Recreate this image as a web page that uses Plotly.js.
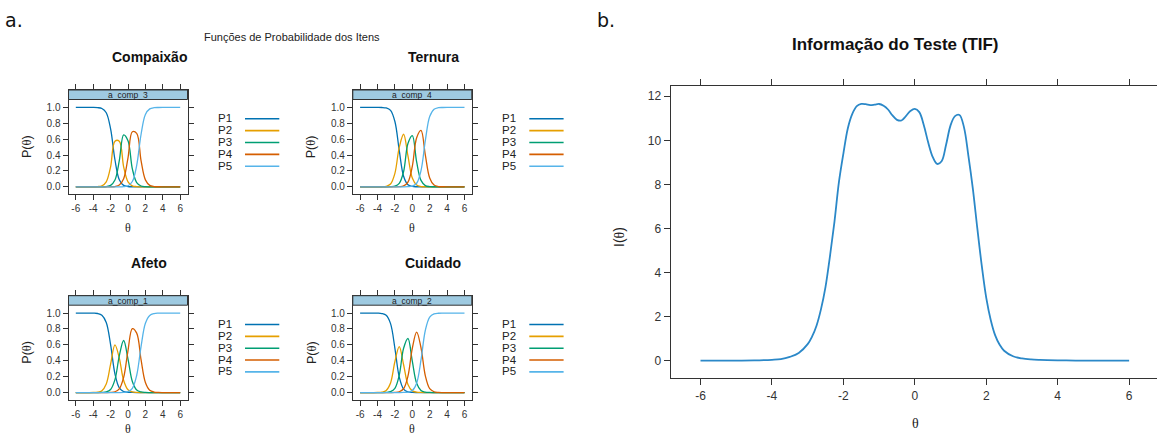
<!DOCTYPE html>
<html>
<head>
<meta charset="utf-8">
<script src="https://cdn.plot.ly/plotly-3.0.1.min.js"></script>
<style>html,body{margin:0;padding:0;background:#fff;}#chart{width:1157px;height:438px;}</style>
</head>
<body>
<div id="chart"></div>
<script>
// ---------- DATA ----------
const theta = [-6,-5.5,-5,-4.5,-4,-3.5,-3,-2.5,-2,-1.5,-1,-0.5,0,0.5,1,1.5,2,2.5,3,3.5,4,4.5,5,5.5,6];
const categoryNames = ['P1','P2','P3','P4','P5'];
const thetaTicks = [-6,-4,-2,0,2,4,6];
const thetaTickText = ['-6','-4','-2','0','2','4','6'];
const probTicks = [0,0.2,0.4,0.6,0.8,1.0];
const probTickText = ['0.0','0.2','0.4','0.6','0.8','1.0'];
const infoTicks = [0,2,4,6,8,10,12];

// Compaixão (a_comp_3)
const comp3_P1 = [1,1,1,1,1,0.997,0.986,0.933,0.729,0.341,0.090,0.019,0.004,0.001,0,0,0,0,0,0,0,0,0,0,0];
const comp3_P2 = [0,0,0,0,0,0.003,0.013,0.063,0.252,0.575,0.575,0.252,0.063,0.013,0.003,0,0,0,0,0,0,0,0,0,0];
const comp3_P3 = [0,0,0,0,0,0,0.001,0.004,0.018,0.086,0.330,0.655,0.580,0.226,0.054,0.011,0.002,0,0,0,0,0,0,0,0];
const comp3_P4 = [0,0,0,0,0,0,0,0,0.001,0.004,0.022,0.102,0.365,0.693,0.672,0.330,0.088,0.019,0.004,0.001,0,0,0,0,0];
const comp3_P5 = [0,0,0,0,0,0,0,0,0,0,0,0.003,0.014,0.067,0.271,0.659,0.910,0.981,0.996,0.999,1,1,1,1,1];

// Ternura (a_comp_4)
const comp4_P1 = [1,1,1,1,1,0.999,0.993,0.962,0.822,0.458,0.134,0.027,0.005,0.001,0,0,0,0,0,0,0,0,0,0,0];
const comp4_P2 = [0,0,0,0,0,0.001,0.007,0.036,0.170,0.497,0.662,0.389,0.110,0.022,0.004,0.001,0,0,0,0,0,0,0,0,0];
const comp4_P3 = [0,0,0,0,0,0,0,0.002,0.008,0.043,0.192,0.545,0.645,0.313,0.081,0.016,0.003,0.001,0,0,0,0,0,0,0];
const comp4_P4 = [0,0,0,0,0,0,0,0,0,0.002,0.012,0.060,0.257,0.619,0.711,0.399,0.112,0.022,0.004,0.001,0,0,0,0,0];
const comp4_P5 = [0,0,0,0,0,0,0,0,0,0,0,0.002,0.009,0.045,0.204,0.584,0.885,0.977,0.996,0.999,1,1,1,1,1];

// Afeto (a_comp_1)
const comp1_P1 = [1,1,1,1,0.999,0.995,0.974,0.883,0.603,0.235,0.058,0.012,0.003,0.001,0,0,0,0,0,0,0,0,0,0,0];
const comp1_P2 = [0,0,0,0,0.001,0.005,0.024,0.109,0.357,0.600,0.434,0.152,0.035,0.008,0.002,0,0,0,0,0,0,0,0,0,0];
const comp1_P3 = [0,0,0,0,0,0,0.002,0.008,0.038,0.162,0.462,0.655,0.422,0.139,0.032,0.007,0.001,0,0,0,0,0,0,0,0];
const comp1_P4 = [0,0,0,0,0,0,0,0,0.002,0.010,0.046,0.190,0.529,0.805,0.748,0.414,0.127,0.029,0.006,0.001,0,0,0,0,0];
const comp1_P5 = [0,0,0,0,0,0,0,0,0,0,0,0.002,0.011,0.053,0.218,0.579,0.872,0.971,0.994,0.999,1,1,1,1,1];

// Cuidado (a_comp_2)
const comp2_P1 = [1,1,1,1,0.999,0.994,0.972,0.868,0.557,0.195,0.044,0.009,0.002,0,0,0,0,0,0,0,0,0,0,0,0];
const comp2_P2 = [0,0,0,0,0.001,0.005,0.026,0.121,0.389,0.577,0.350,0.102,0.021,0.005,0.001,0,0,0,0,0,0,0,0,0,0];
const comp2_P3 = [0,0,0,0,0,0,0.002,0.011,0.052,0.218,0.557,0.680,0.395,0.116,0.025,0.005,0.001,0,0,0,0,0,0,0,0];
const comp2_P4 = [0,0,0,0,0,0,0,0,0.002,0.010,0.048,0.206,0.557,0.761,0.564,0.211,0.049,0.010,0.002,0,0,0,0,0,0];
const comp2_P5 = [0,0,0,0,0,0,0,0,0,0,0.001,0.005,0.025,0.118,0.410,0.784,0.950,0.990,0.998,1,1,1,1,1,1];

// Test information function
const tifTheta = [-6,-5,-4.5,-4,-3.75,-3.5,-3.25,-3,-2.875,-2.75,-2.625,-2.5,-2.375,-2.25,-2.125,-2,-1.875,-1.75,-1.625,-1.5,-1.375,-1.25,-1.125,-1,-0.875,-0.75,-0.625,-0.5,-0.375,-0.25,-0.125,0,0.125,0.25,0.375,0.5,0.625,0.75,0.875,1,1.125,1.25,1.375,1.5,1.625,1.75,1.875,2,2.125,2.25,2.375,2.5,2.75,3,3.25,3.5,4,4.5,5,6];
const tifInfo  = [0,0.005,0.015,0.04,0.07,0.17,0.35,0.75,1.1,1.6,2.35,3.35,4.75,6.3,8.1,9.4,10.55,11.2,11.55,11.65,11.64,11.6,11.62,11.65,11.57,11.4,11.13,10.93,10.9,11.1,11.33,11.43,11.28,10.7,9.9,9.25,8.93,9.05,9.8,10.68,11.1,11.15,10.6,9.3,7.8,6.0,4.3,2.85,1.85,1.15,0.72,0.45,0.2,0.1,0.055,0.035,0.015,0.005,0.002,0];

// ---------- LAYOUT HELPERS ----------
const W = 1157, H = 438;
const fx = x => x / W;
const fy = y => 1 - y / H;
const palette = ['#0072B2','#E69F00','#009E73','#D55E00','#56B4E9'];
const axisCol = '#333333';
const sans = 'Liberation Sans, Arial, Helvetica, sans-serif';
const serif = 'Liberation Serif, DejaVu Serif, serif';

const panels = [
  {title:'Compaixão', strip:'a_comp_3', dx:0,     dy:0,     series:[comp3_P1,comp3_P2,comp3_P3,comp3_P4,comp3_P5]},
  {title:'Ternura',   strip:'a_comp_4', dx:284.3, dy:0,     series:[comp4_P1,comp4_P2,comp4_P3,comp4_P4,comp4_P5]},
  {title:'Afeto',     strip:'a_comp_1', dx:0,     dy:205.7, series:[comp1_P1,comp1_P2,comp1_P3,comp1_P4,comp1_P5]},
  {title:'Cuidado',   strip:'a_comp_2', dx:284.3, dy:205.7, series:[comp2_P1,comp2_P2,comp2_P3,comp2_P4,comp2_P5]}
];

const traces = [];
const layout = {
  width: W, height: H,
  margin: {l:0, r:0, t:0, b:0},
  paper_bgcolor: '#ffffff', plot_bgcolor: '#ffffff',
  showlegend: false,
  font: {family: sans, color: '#222'},
  annotations: [], shapes: []
};

function ann(text, x, y, opts) {
  layout.annotations.push(Object.assign({
    text: text, x: fx(x), y: fy(y), xref: 'paper', yref: 'paper',
    xanchor: 'center', yanchor: 'middle', showarrow: false,
    font: {family: sans, size: 12, color: '#222'}
  }, opts || {}));
}

const baseAxis = {
  showgrid: false, zeroline: false, showline: true, linecolor: axisCol, linewidth: 1,
  mirror: 'ticks', ticks: 'outside', ticklen: 5, tickwidth: 1, tickcolor: axisCol,
  fixedrange: true
};

panels.forEach((p, i) => {
  const k = i + 1;
  const xa = 'xaxis' + (k === 1 ? '' : k), ya = 'yaxis' + (k === 1 ? '' : k);
  const left = 68.5 + p.dx, right = 187.5 + p.dx;
  const top = 90 + p.dy, bottom = 194 + p.dy, stripBottom = 99.5 + p.dy;
  layout[xa] = Object.assign({}, baseAxis, {
    domain: [fx(left), fx(right)], range: [-6.84, 6.84], anchor: 'y' + (k === 1 ? '' : k),
    tickvals: thetaTicks, ticktext: thetaTickText,
    tickfont: {family: sans, size: 10, color: '#333'}
  });
  layout[ya] = Object.assign({}, baseAxis, {
    domain: [fy(bottom), fy(top)], range: [-0.09, 1.219], anchor: 'x' + (k === 1 ? '' : k),
    tickvals: probTicks, ticktext: probTickText,
    tickfont: {family: sans, size: 10, color: '#333'}
  });
  p.series.forEach((vals, j) => {
    traces.push({
      type: 'scatter', mode: 'lines', x: theta, y: vals, name: categoryNames[j],
      xaxis: 'x' + (k === 1 ? '' : k), yaxis: 'y' + (k === 1 ? '' : k),
      line: {color: palette[j], width: 1.3, shape: 'spline', smoothing: 1},
      hoverinfo: 'skip'
    });
  });
  // strip
  layout.shapes.push({type:'rect', xref:'paper', yref:'paper',
    x0: fx(left), x1: fx(right), y0: fy(stripBottom), y1: fy(top),
    fillcolor: '#9ECAE1', line: {color: axisCol, width: 1}, layer: 'above'});
  ann(p.strip, (left + right) / 2, (top + stripBottom) / 2 + 0.3, {font: {family: sans, size: 8.5, color: '#222'}});
  // titles
  ann('<b>' + p.title + '</b>', 149 + p.dx, 57 + p.dy, {font: {family: sans, size: 14, color: '#111'}});
  ann('P(<span style="font-family:Liberation Serif">θ</span>)', 27 + p.dx, 147 + p.dy,
      {textangle: -90, font: {family: sans, size: 12.5, color: '#222'}});
  ann('θ', 128 + p.dx, Math.min(228 + p.dy, 429), {font: {family: serif, size: 12, color: '#222'}});
  // legend (key)
  categoryNames.forEach((nm, j) => {
    const yy = 118.3 + p.dy + j * 11.85;
    ann(nm, 216.5 + p.dx, yy, {xanchor: 'left', borderpad: 0, font: {family: sans, size: 11.5, color: '#222'}});
    layout.shapes.push({type:'line', xref:'paper', yref:'paper',
      x0: fx(245 + p.dx), x1: fx(279.3 + p.dx), y0: fy(yy + 0.5), y1: fy(yy + 0.5),
      line: {color: palette[j], width: 1.6}});
  });
});

// Right panel (TIF)
layout.xaxis5 = Object.assign({}, baseAxis, {
  domain: [fx(670.5), 1], range: [-6.84, 6.78], anchor: 'y5',
  tickvals: thetaTicks, ticktext: thetaTickText, ticklen: 6,
  tickfont: {family: sans, size: 12, color: '#333'}
});
layout.yaxis5 = Object.assign({}, baseAxis, {
  domain: [fy(378.3), fy(85.7)], range: [-0.8, 12.48], anchor: 'x5',
  tickvals: infoTicks, ticklen: 6,
  tickfont: {family: sans, size: 12, color: '#333'}
});
traces.push({
  type: 'scatter', mode: 'lines', x: tifTheta, y: tifInfo, name: 'TIF',
  xaxis: 'x5', yaxis: 'y5',
  line: {color: '#2B88C8', width: 1.8, shape: 'spline', smoothing: 1},
  hoverinfo: 'skip'
});

ann('<b>Informação do Teste (TIF)</b>', 895, 45, {font: {family: sans, size: 17, color: '#111'}});
ann('I(<span style="font-family:Liberation Serif">θ</span>)', 619, 237,
    {textangle: -90, font: {family: sans, size: 14, color: '#222'}});
ann('θ', 915, 423, {font: {family: serif, size: 14, color: '#222'}});

// Global labels
ann('Funções de Probabilidade dos Itens', 292, 37, {font: {family: sans, size: 11, color: '#222'}});
ann('a.', 14, 20, {font: {family: 'DejaVu Sans, Verdana, sans-serif', size: 19, color: '#111'}});
ann('b.', 606, 20, {font: {family: 'DejaVu Sans, Verdana, sans-serif', size: 19, color: '#111'}});

Plotly.newPlot('chart', traces, layout, {displayModeBar: false, staticPlot: true});
</script>
</body>
</html>
